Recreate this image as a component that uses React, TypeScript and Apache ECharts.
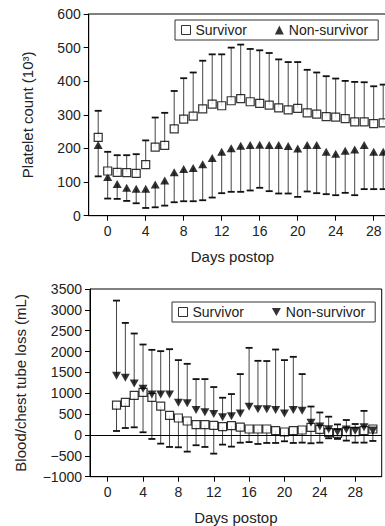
import React, { useEffect, useRef } from "react";
import * as echarts from "echarts";

// ---- Platelet count (x10^3) by postoperative day ----
const plateletDays = [-1, 0, 1, 2, 3, 4, 5, 6, 7, 8, 9, 10, 11, 12, 13, 14, 15, 16, 17, 18, 19, 20, 21, 22, 23, 24, 25, 26, 27, 28, 29];
const survivorPlatelet = [233, 133, 129, 128, 126, 152, 204, 209, 258, 287, 296, 318, 332, 327, 342, 348, 339, 334, 329, 321, 315, 319, 306, 302, 295, 293, 289, 279, 279, 274, 276];
const survivorPlateletUpper = [312, 190, 180, 180, 183, 224, 292, 306, 371, 409, 426, 461, 480, 480, 500, 509, 496, 492, 484, 465, 457, 457, 434, 426, 415, 408, 401, 398, 397, 385, 390];
const nonSurvivorPlatelet = [210, 115, 94, 83, 80, 80, 93, 105, 129, 139, 142, 153, 172, 190, 201, 208, 210, 211, 210, 210, 207, 200, 210, 210, 190, 184, 193, 197, 210, 190, 190];
const nonSurvivorPlateletLower = [117, 51, 50, 44, 37, 23, 25, 30, 40, 43, 43, 46, 54, 67, 71, 71, 75, 83, 73, 66, 66, 56, 72, 67, 64, 61, 68, 61, 79, 79, 79];

// ---- Blood / chest tube loss (mL) by postoperative day ----
const lossDays = [1, 2, 3, 4, 5, 6, 7, 8, 9, 10, 11, 12, 13, 14, 15, 16, 17, 18, 19, 20, 21, 22, 23, 24, 25, 26, 27, 28, 29, 30];
const survivorLoss = [718, 782, 949, 1021, 902, 694, 471, 407, 335, 247, 247, 230, 199, 224, 190, 144, 144, 144, 104, 72, 104, 120, 184, 136, 55, 40, 80, 80, 104, 144];
const survivorLossLower = [96, 167, 184, 65, -95, -207, -287, -295, -399, -246, -287, -447, -231, -279, -185, -170, -215, -191, -191, -151, -191, -183, -199, -183, -79, -94, -135, -183, -183, -143];
const nonSurvivorLoss = [1419, 1371, 1237, 1108, 973, 973, 973, 773, 758, 598, 544, 502, 424, 447, 518, 678, 615, 615, 598, 518, 598, 582, 293, 203, 140, 72, 132, 104, 184, 104];
const nonSurvivorLossUpper = [3222, 2687, 2433, 2169, 2041, 2010, 2057, 1795, 1706, 1340, 1340, 1149, 893, 981, 1460, 2089, 1778, 1773, 2049, 1795, 1874, 1460, 682, 540, 439, 253, 359, 263, 578, 199];

const dayTicks = [0, 4, 8, 12, 16, 20, 24, 28];

const FONT = "'Liberation Sans', Arial, Helvetica, sans-serif";
const TEXT = "#222";
const DOWN_TRIANGLE = "path://M0,0L10,0L5,9Z";

function errorBars(name: string, days: number[], mid: number[], end: number[]) {
  return {
    name,
    type: "custom",
    silent: true,
    z: 1,
    encode: { x: 0, y: [1, 2] },
    data: days.map((d, i) => [d, mid[i], end[i]]),
    renderItem: (_p: any, api: any) => {
      const x = api.value(0);
      const a = api.coord([x, api.value(1)]);
      const b = api.coord([x, api.value(2)]);
      const hw = 3.5;
      return {
        type: "group",
        children: [
          { type: "line", shape: { x1: a[0], y1: a[1], x2: b[0], y2: b[1] }, style: { stroke: "#444", lineWidth: 1 } },
          { type: "line", shape: { x1: b[0] - hw, y1: b[1], x2: b[0] + hw, y2: b[1] }, style: { stroke: "#111", lineWidth: 1.8 } },
        ],
      };
    },
  };
}

// namePadRight shifts the centred axis title to the left when the plot runs past the right edge
function dayAxis(namePadRight: number) {
  return {
    type: "value",
    min: -2,
    max: 31,
    splitLine: { show: false },
    axisLine: { show: true, onZero: false, lineStyle: { color: "#000", width: 1 } },
    axisTick: { show: true, length: 5, inside: false, customValues: dayTicks, lineStyle: { color: "#000" } },
    axisLabel: { customValues: dayTicks, margin: 8, fontSize: 14, color: TEXT, fontFamily: FONT },
    name: "Days postop",
    nameLocation: "middle",
    nameGap: 33,
    nameTextStyle: { fontSize: 15, color: TEXT, fontFamily: FONT, padding: [0, namePadRight, 0, 0] },
  };
}

function legendBox(left: number, top: number, triangleIcon: string) {
  return {
    left,
    top,
    orient: "horizontal",
    padding: [3, 10, 3, 6],
    itemGap: 28,
    itemWidth: 9,
    itemHeight: 9,
    borderColor: "#333",
    borderWidth: 1,
    backgroundColor: "#fff",
    textStyle: { fontSize: 14, color: TEXT, fontFamily: FONT },
    data: [
      { name: "Survivor", icon: "rect", itemStyle: { color: "#fff", borderColor: "#000", borderWidth: 1 } },
      { name: "Non-survivor", icon: triangleIcon, itemStyle: { color: "#000", borderWidth: 0 } },
    ],
  };
}

const TOP_H = 268;

const plateletOption = {
  animation: false,
  textStyle: { fontFamily: FONT },
  grid: {
    left: 88.7,
    top: 14,
    width: 313.5,
    height: 201.7,
    outerBoundsMode: "none",
    show: true,
    borderColor: "#000",
    borderWidth: 1,
    backgroundColor: "transparent",
  },
  legend: legendBox(175, 20, "triangle"),
  xAxis: dayAxis(26),
  yAxis: {
    type: "value",
    min: 0,
    max: 600,
    interval: 100,
    splitLine: { show: false },
    axisLine: { show: true, onZero: false, lineStyle: { color: "#000" } },
    axisTick: { show: true, length: 5, lineStyle: { color: "#000" } },
    axisLabel: { margin: 8, fontSize: 14, color: TEXT, fontFamily: FONT },
    name: "Platelet count (10³)",
    nameLocation: "middle",
    nameGap: 54,
    nameTextStyle: { fontSize: 15, color: TEXT, fontFamily: FONT },
  },
  series: [
    errorBars("survivorSD", plateletDays, survivorPlatelet, survivorPlateletUpper),
    errorBars("nonSurvivorSD", plateletDays, nonSurvivorPlatelet, nonSurvivorPlateletLower),
    {
      name: "Non-survivor",
      type: "scatter",
      z: 3,
      symbol: "triangle",
      symbolSize: [9, 8],
      itemStyle: { color: "#000" },
      data: plateletDays.map((d, i) => [d, nonSurvivorPlatelet[i]]),
    },
    {
      name: "Survivor",
      type: "scatter",
      z: 4,
      symbol: "rect",
      symbolSize: 8,
      itemStyle: { color: "#fff", borderColor: "#000", borderWidth: 1.2 },
      data: plateletDays.map((d, i) => [d, survivorPlatelet[i]]),
    },
  ],
};

const lossOption = {
  animation: false,
  textStyle: { fontFamily: FONT },
  grid: {
    left: 90,
    top: 289 - TOP_H,
    width: 291.7,
    height: 187.7,
    outerBoundsMode: "none",
    show: true,
    borderColor: "#000",
    borderWidth: 1,
    backgroundColor: "transparent",
  },
  legend: legendBox(172, 302 - TOP_H, DOWN_TRIANGLE),
  xAxis: dayAxis(0),
  yAxis: {
    type: "value",
    min: -1000,
    max: 3500,
    interval: 500,
    splitLine: { show: false },
    axisLine: { show: true, onZero: false, lineStyle: { color: "#000" } },
    axisTick: { show: true, length: 5, lineStyle: { color: "#000" } },
    axisLabel: {
      margin: 8,
      fontSize: 14,
      color: TEXT,
      fontFamily: FONT,
      formatter: (v: number) => String(v).replace("-", "\u2212"),
    },
    name: "Blood/chest tube loss (mL)",
    nameLocation: "middle",
    nameGap: 62,
    nameTextStyle: { fontSize: 15, color: TEXT, fontFamily: FONT },
  },
  series: [
    {
      ...errorBars("survivorSD", lossDays, survivorLoss, survivorLossLower),
      markLine: {
        silent: true,
        symbol: "none",
        label: { show: false },
        lineStyle: { color: "#000", width: 1, type: "solid" },
        data: [{ yAxis: 0 }],
      },
    },
    errorBars("nonSurvivorSD", lossDays, nonSurvivorLoss, nonSurvivorLossUpper),
    {
      name: "Survivor",
      type: "scatter",
      z: 3,
      symbol: "rect",
      symbolSize: 8,
      itemStyle: { color: "#fff", borderColor: "#000", borderWidth: 1.2 },
      data: lossDays.map((d, i) => [d, survivorLoss[i]]),
    },
    {
      name: "Non-survivor",
      type: "scatter",
      z: 4,
      symbol: DOWN_TRIANGLE,
      symbolSize: [9, 8],
      itemStyle: { color: "#000" },
      data: lossDays.map((d, i) => [d, nonSurvivorLoss[i]]),
    },
  ],
};

function Chart({ option, top, height }: { option: any; top: number; height: number }) {
  const ref = useRef<HTMLDivElement>(null);
  useEffect(() => {
    if (!ref.current) return;
    const chart = echarts.init(ref.current, undefined, { renderer: "svg" });
    chart.setOption(option);
    return () => chart.dispose();
  }, [option]);
  return <div ref={ref} style={{ position: "absolute", left: 0, top, width: 385, height }} />;
}

export default function App() {
  useEffect(() => {
    document.body.style.margin = "0";
  }, []);
  return (
    <div style={{ position: "absolute", left: 0, top: 0, width: 385, height: 526, background: "#fff", overflow: "hidden" }}>
      <Chart option={plateletOption} top={0} height={TOP_H} />
      <Chart option={lossOption} top={TOP_H} height={526 - TOP_H} />
    </div>
  );
}
